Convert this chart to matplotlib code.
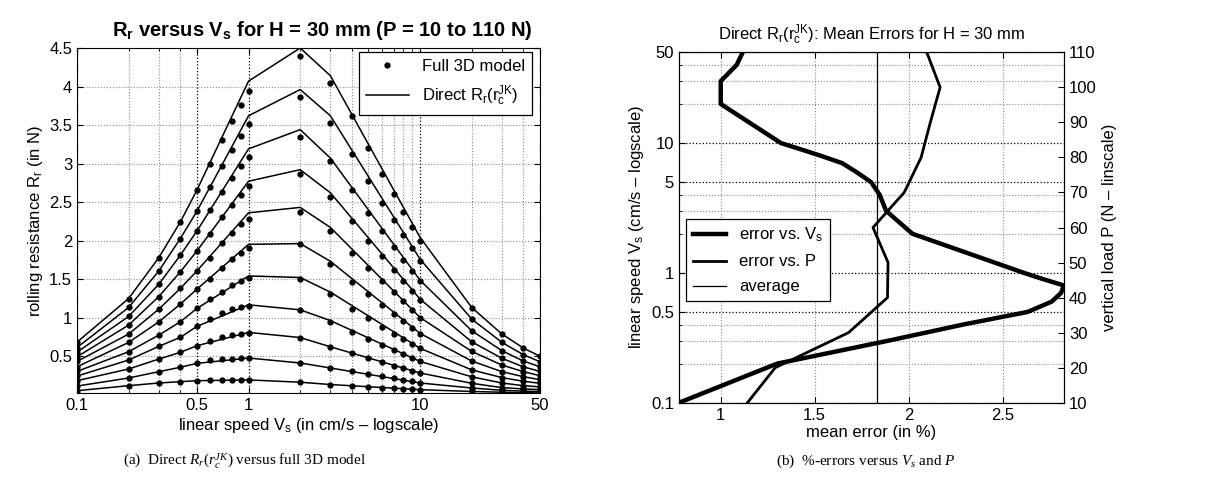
import numpy as np
import matplotlib
matplotlib.use('Agg')
import matplotlib.pyplot as plt
from matplotlib.ticker import FixedLocator, FixedFormatter, NullFormatter

plt.rcParams['font.family'] = ['Liberation Sans', 'DejaVu Sans']
plt.rcParams['mathtext.fontset'] = 'custom'
plt.rcParams['mathtext.rm'] = 'Liberation Sans'
plt.rcParams['mathtext.it'] = 'Liberation Serif:italic'
plt.rcParams['mathtext.bf'] = 'Liberation Sans:bold'

#----------------- datos (a): resistencia a la rodadura
loads = [10, 20, 30, 40, 50, 60, 70, 80, 90, 100, 110]
speed_pts = [0.1, 0.2, 0.3, 0.4, 0.5, 0.6, 0.7, 0.8, 0.9, 1,
             2, 3, 4, 5, 6, 7, 8, 9, 10, 20, 30, 40, 50]
speed_line = [0.1, 0.2, 0.3, 0.4, 0.5, 1, 2, 3, 10, 20, 30, 40, 50]

# full 3D model (one row per load)
rr_model = [
    [0.05, 0.115, 0.15, 0.167, 0.18, 0.187, 0.19, 0.19, 0.19, 0.19, 0.16, 0.128, 0.11, 0.10, 0.09, 0.085, 0.075, 0.07, 0.063, 0.04, 0.03, 0.025, 0.02],
    [0.11, 0.215, 0.297, 0.354, 0.405, 0.452, 0.461, 0.465, 0.47, 0.47, 0.41, 0.34, 0.30, 0.265, 0.235, 0.21, 0.19, 0.17, 0.15, 0.085, 0.055, 0.045, 0.038],
    [0.18, 0.332, 0.461, 0.548, 0.634, 0.70, 0.742, 0.772, 0.789, 0.794, 0.733, 0.612, 0.54, 0.47, 0.42, 0.375, 0.34, 0.31, 0.28, 0.146, 0.09, 0.073, 0.064],
    [0.24, 0.448, 0.626, 0.742, 0.885, 0.979, 1.057, 1.109, 1.139, 1.152, 1.10, 0.945, 0.81, 0.72, 0.64, 0.575, 0.52, 0.47, 0.43, 0.23, 0.15, 0.115, 0.10],
    [0.30, 0.556, 0.772, 0.944, 1.118, 1.238, 1.333, 1.42, 1.475, 1.519, 1.50, 1.30, 1.11, 0.99, 0.88, 0.79, 0.72, 0.655, 0.60, 0.32, 0.22, 0.172, 0.146],
    [0.36, 0.677, 0.944, 1.174, 1.368, 1.506, 1.649, 1.756, 1.834, 1.908, 1.95, 1.69, 1.455, 1.30, 1.16, 1.05, 0.96, 0.87, 0.79, 0.435, 0.297, 0.232, 0.193],
    [0.43, 0.785, 1.109, 1.377, 1.605, 1.778, 1.973, 2.10, 2.21, 2.28, 2.37, 2.12, 1.84, 1.64, 1.47, 1.33, 1.21, 1.10, 0.99, 0.56, 0.383, 0.297, 0.245],
    [0.49, 0.902, 1.273, 1.592, 1.864, 2.08, 2.30, 2.456, 2.585, 2.71, 2.86, 2.56, 2.26, 2.00, 1.80, 1.62, 1.47, 1.34, 1.23, 0.685, 0.47, 0.36, 0.30],
    [0.55, 1.014, 1.433, 1.808, 2.123, 2.40, 2.63, 2.815, 2.965, 3.09, 3.35, 3.03, 2.66, 2.36, 2.12, 1.92, 1.75, 1.61, 1.47, 0.828, 0.569, 0.435, 0.36],
    [0.61, 1.131, 1.605, 2.025, 2.38, 2.70, 2.965, 3.18, 3.36, 3.51, 3.86, 3.53, 3.12, 2.77, 2.49, 2.27, 2.07, 1.90, 1.74, 0.98, 0.677, 0.517, 0.426],
    [0.68, 1.247, 1.778, 2.240, 2.654, 3.00, 3.30, 3.55, 3.76, 3.94, 4.40, 4.05, 3.62, 3.20, 2.87, 2.60, 2.37, 2.18, 2.00, 1.13, 0.785, 0.604, 0.496],
]

# Direct Rr(rc^JK)
rr_direct = [
    [0.05, 0.115, 0.15, 0.167, 0.18, 0.19, 0.16, 0.13, 0.063, 0.04, 0.03, 0.025, 0.02],
    [0.11, 0.215, 0.297, 0.354, 0.405, 0.474, 0.41, 0.345, 0.15, 0.085, 0.055, 0.045, 0.038],
    [0.18, 0.332, 0.461, 0.548, 0.634, 0.807, 0.74, 0.62, 0.28, 0.146, 0.09, 0.073, 0.064],
    [0.24, 0.448, 0.626, 0.742, 0.885, 1.165, 1.10, 0.96, 0.43, 0.23, 0.15, 0.115, 0.10],
    [0.30, 0.556, 0.772, 0.944, 1.118, 1.54, 1.52, 1.33, 0.60, 0.32, 0.22, 0.172, 0.146],
    [0.36, 0.677, 0.944, 1.174, 1.368, 1.95, 1.96, 1.73, 0.794, 0.435, 0.297, 0.232, 0.193],
    [0.43, 0.785, 1.109, 1.377, 1.605, 2.36, 2.43, 2.17, 1.0, 0.56, 0.383, 0.297, 0.245],
    [0.49, 0.902, 1.273, 1.592, 1.864, 2.77, 2.92, 2.62, 1.238, 0.685, 0.47, 0.36, 0.30],
    [0.55, 1.014, 1.433, 1.808, 2.123, 3.19, 3.44, 3.07, 1.484, 0.828, 0.569, 0.435, 0.36],
    [0.61, 1.131, 1.605, 2.025, 2.38, 3.62, 3.96, 3.62, 1.757, 0.98, 0.677, 0.517, 0.426],
    [0.68, 1.247, 1.778, 2.240, 2.654, 4.07, 4.50, 4.14, 2.04, 1.13, 0.785, 0.604, 0.496],
]

#----------------- datos (b): errores medios
err_vs_speed = [0.778, 1.30, 1.89, 2.29, 2.632, 2.76, 2.81, 2.826, 2.709, 2.613,
                2.02, 1.88, 1.845, 1.80, 1.72, 1.646, 1.53, 1.42, 1.32,
                1.0, 1.0, 1.085, 1.117]
err_vs_load = [1.142, 1.29, 1.68, 1.887, 1.89, 1.81, 1.976, 2.066, 2.115, 2.167, 2.096]
err_average = 1.83

xt_a = [0.1, 0.5, 1, 10, 50]
xt_a_minor = [0.2, 0.3, 0.4, 2, 3, 4, 5, 6, 7, 8, 9, 20, 30, 40]
yt_a = [0.5, 1, 1.5, 2, 2.5, 3, 3.5, 4, 4.5]
xt_b = [1, 1.5, 2, 2.5]
yt_b = [0.1, 0.5, 1, 5, 10, 50]
yt_b_minor = [0.2, 0.3, 0.4, 2, 3, 4, 20, 30, 40]
yt_b2 = [10, 20, 30, 40, 50, 60, 70, 80, 90, 100, 110]


def lbl(v):
    return ('%g' % v)


fig = plt.figure(figsize=(12.14, 4.95), dpi=100)
fs = 12

#----------------- (a)
ax = fig.add_axes([77/1214, 1-393/495, 463/1214, 345/495])
for i in range(len(loads)):
    ax.plot(speed_line, rr_direct[i], '-', color='k', lw=1.1, zorder=2)
    ax.plot(speed_pts, rr_model[i], '.', color='k', ms=7, zorder=3)
ax.set_xscale('log')
ax.set_xlim(min(speed_pts), max(speed_pts))
allv = [v for r in rr_model + rr_direct for v in r]
ax.set_ylim(min(allv), max(allv))
ax.xaxis.set_major_locator(FixedLocator(xt_a))
ax.xaxis.set_major_formatter(FixedFormatter([lbl(v) for v in xt_a]))
ax.xaxis.set_minor_locator(FixedLocator(xt_a_minor))
ax.xaxis.set_minor_formatter(NullFormatter())
ax.yaxis.set_major_locator(FixedLocator(yt_a))
ax.yaxis.set_major_formatter(FixedFormatter([lbl(v) for v in yt_a]))
ax.grid(which='major', axis='x', color='k', ls=':', lw=0.9)
ax.grid(which='minor', axis='x', color='0.55', ls=':', lw=0.8)
ax.grid(which='major', axis='y', color='0.55', ls=':', lw=0.8)
ax.tick_params(which='both', direction='in', top=True, right=True, labelsize=fs)
ax.tick_params(which='major', length=4)
ax.tick_params(which='minor', length=2)
ax.set_title(r'$\mathbf{R_r}$ versus $\mathbf{V_s}$ for H = 30 mm (P = 10 to 110 N)',
             fontsize=14.5, fontweight='bold', pad=9, x=0.53)
ax.set_xlabel(r'linear speed $\mathrm{V_s}$ (in cm/s – logscale)', fontsize=fs, labelpad=2)
ax.set_ylabel(r'rolling resistance $\mathrm{R_r}$ (in N)', fontsize=fs, labelpad=3)
h1, = ax.plot([], [], '.', color='k', ms=7)
h2, = ax.plot([], [], '-', color='k', lw=1.1)
leg = ax.legend([h1, h2], ['Full 3D model', r'Direct $\mathrm{R_r(r_c^{JK})}$'],
                loc='upper right', bbox_to_anchor=(0.983, 0.988), borderaxespad=0,
                fancybox=False, edgecolor='k', framealpha=1, fontsize=fs,
                handlelength=2.6, labelspacing=0.6)
leg.get_frame().set_linewidth(0.9)
leg.set_zorder(10)

#----------------- (b)
bx = fig.add_axes([679/1214, 1-402.7/495, 385/1214, 350.4/495])
l1, = bx.plot(err_vs_speed, speed_pts, '-', color='k', lw=3.2)
bx.set_yscale('log')
bx.set_ylim(0.1, 50)
bx2 = bx.twinx()
l2, = bx2.plot(err_vs_load, loads, '-', color='k', lw=2.0)
l3 = bx2.axvline(err_average, color='k', lw=0.9)
bx2.set_ylim(10, 110)
allx = err_vs_speed + err_vs_load
bx.set_xlim(min(allx), max(allx))
bx.xaxis.set_major_locator(FixedLocator(xt_b))
bx.xaxis.set_major_formatter(FixedFormatter([lbl(v) for v in xt_b]))
bx.yaxis.set_major_locator(FixedLocator(yt_b))
bx.yaxis.set_major_formatter(FixedFormatter([lbl(v) for v in yt_b]))
bx.yaxis.set_minor_locator(FixedLocator(yt_b_minor))
bx.yaxis.set_minor_formatter(NullFormatter())
bx2.yaxis.set_major_locator(FixedLocator(yt_b2))
bx2.yaxis.set_major_formatter(FixedFormatter([lbl(v) for v in yt_b2]))
bx.grid(which='major', axis='y', color='k', ls=':', lw=0.9)
bx.grid(which='minor', axis='y', color='0.55', ls=':', lw=0.8)
bx.grid(which='major', axis='x', color='0.55', ls=':', lw=0.8)
bx.tick_params(which='both', direction='in', top=True, labelsize=fs)
bx.tick_params(which='major', length=4)
bx.tick_params(which='minor', length=2)
bx2.tick_params(which='both', direction='in', labelsize=fs, length=4)
bx.set_title(r'Direct $\mathrm{R_r(r_c^{JK})}$: Mean Errors for H = 30 mm', fontsize=fs, pad=9)
bx.set_xlabel('mean error (in %)', fontsize=fs, labelpad=2)
bx.set_ylabel(r'linear speed $\mathrm{V_s}$ (cm/s – logscale)', fontsize=fs)
bx2.set_ylabel('vertical load P (N – linscale)', fontsize=fs)
leg2 = bx2.legend([l1, l2, l3], [r'error vs. $\mathrm{V_s}$', 'error vs. P', 'average'],
                  loc='lower left', bbox_to_anchor=(0.018, 0.29), borderaxespad=0,
                  fancybox=False, edgecolor='k', framealpha=1, fontsize=fs,
                  handlelength=2.0, labelspacing=0.6)
leg2.get_frame().set_linewidth(0.9)

#----------------- captions
fig.text(245/1214, 1-461/495, r'(a)  Direct $R_r$($r_c^{JK}$) versus full 3D model',
         ha='center', va='center', family='Liberation Serif', fontsize=11)
fig.text(866/1214, 1-461/495, r'(b)  %-errors versus $V_s$ and $P$',
         ha='center', va='center', family='Liberation Serif', fontsize=11)

fig.savefig('out.png', dpi=100)
